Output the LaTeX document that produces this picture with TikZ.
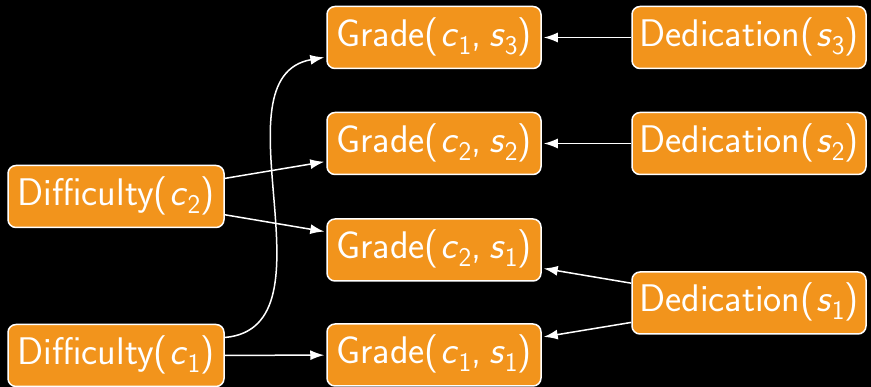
\documentclass[tikz,border=0pt]{standalone}
\usepackage{fontspec}
\setsansfont{lmsans17-regular.otf}[ItalicFont=lmsans17-oblique.otf]
\usetikzlibrary{arrows.meta}
\definecolor{boxorange}{RGB}{242,148,28}
\newcommand{\sub}[1]{\raisebox{-0.2em}{\fontsize{27}{27}\selectfont\upshape #1}}
\newcommand{\va}[1]{\hspace{0.04em}\textit{#1}}
\newcommand{\cm}{,\hspace{0.2em}}
\tikzset{
  box/.style={draw=white, line width=1.5pt, fill=boxorange, rounded corners=8pt,
    text=white, minimum height=62pt, inner sep=0pt, text height=29pt, text depth=11pt,
    font=\sffamily\fontsize{38.5}{44}\selectfont},
  diffbox/.style={box, minimum width=216pt},
  gradebox/.style={box, minimum width=214pt},
  dedbox/.style={box, minimum width=234pt},
  link/.style={draw=white, line width=1.5pt, shorten >=2pt,
    -{Latex[length=14pt,width=10pt]}}
}
\begin{document}
\begin{tikzpicture}[x=1pt,y=-1pt]
\fill[black] (0,0) rectangle (871,387);
\useasboundingbox (0,0) rectangle (871,387);
\node[diffbox] (dc2) at (116,196.5) {Difficulty(\va{c}\sub{2})};
\node[diffbox] (dc1) at (116,355.5) {Difficulty(\va{c}\sub{1})};
\node[gradebox] (g13) at (434,37.5) {Grade(\va{c}\sub{1}\cm\textit{s}\sub{3})};
\node[gradebox] (g22) at (434,143.5) {Grade(\va{c}\sub{2}\cm\textit{s}\sub{2})};
\node[gradebox] (g21) at (434,250) {Grade(\va{c}\sub{2}\cm\textit{s}\sub{1})};
\node[gradebox] (g11) at (434,355) {Grade(\va{c}\sub{1}\cm\textit{s}\sub{1})};
\node[dedbox] (d3) at (749,37.5) {Dedication(\va{s}\sub{3})};
\node[dedbox] (d2) at (749,143.5) {Dedication(\va{s}\sub{2})};
\node[dedbox] (d1) at (749,303) {Dedication(\va{s}\sub{1})};
\draw[link] (d3) -- (g13);
\draw[link] (d2) -- (g22);
\draw[link] (d1) -- (g21);
\draw[link] (d1) -- (g11);
\draw[link] (dc2) -- (g22);
\draw[link] (dc2) -- (g21);
\draw[link] (dc1) -- (g11);
\draw[link] ([yshift=18pt]dc1.east) to[out=5,in=190] ([yshift=-19.5pt]g13.west);
\end{tikzpicture}
\end{document}
